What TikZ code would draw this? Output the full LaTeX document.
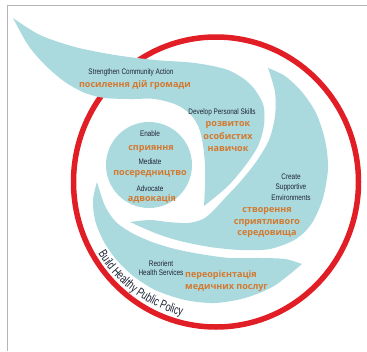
\documentclass[tikz,border=0pt]{standalone}
\usepackage{fontspec}
\setmainfont{Liberation Sans}
\newfontfamily\narrowsf{Liberation Sans}[FakeStretch=0.8]
\newfontfamily\capsf{Liberation Sans}[FakeStretch=0.72]
\newfontfamily\uafont{Open Sans}
\usetikzlibrary{decorations.text}

\definecolor{wingteal}{RGB}{170,218,222}
\definecolor{ringred}{RGB}{225,30,38}
\definecolor{ochre}{RGB}{212,120,45}
\definecolor{inkblue}{RGB}{30,35,50}
\definecolor{framegray}{RGB}{182,180,182}

\begin{document}
\begin{tikzpicture}[
  x=1pt, y=1pt,
  wing/.style={fill=wingteal},
  ring/.style={draw=ringred, line width=5.5pt},
  frame/.style={draw=framegray, line width=1.6pt},
  en/.style={font=\narrowsf\fontsize{8}{10}\selectfont, text=inkblue, align=center, inner sep=0pt},
  ua/.style={font=\uafont\bfseries\fontsize{9}{12}\selectfont, text=ochre, align=center, inner sep=0pt}
]
\useasboundingbox (0,0) rectangle (367,-351);
\draw[frame] (367,-5.5) -- (7.5,-5.5) -- (7.5,-351);

% public policy ring
\draw[ring] (216,-182) ellipse [x radius=142.5, y radius=145];

% wing that breaks out of the ring
\fill[wing] plot[smooth] coordinates {(13,-18) (40,-35) (75,-47) (115,-55) (155,-60) (195,-63) (228,-70) (250,-84) (263,-104) (264,-125) (258,-146) (245,-166) (229,-185) (214,-198) (204,-206)}
  -- plot[smooth] coordinates {(204,-206) (205,-185) (205,-165) (203,-145) (199,-128) (191,-115) (177,-105) (155,-99) (130,-99) (105,-98) (85,-93) (65,-82) (45,-65) (28,-45) (13,-18)} -- cycle;

% right wing
\fill[wing] plot[smooth] coordinates {(268,-68) (285,-76) (302,-92) (316,-113) (325,-140) (328,-168) (323,-198) (312,-223) (296,-239) (270,-249) (240,-250) (210,-247) (180,-241) (155,-233) (130,-222)}
  -- plot[smooth] coordinates {(130,-222) (150,-220) (168,-222) (188,-223) (203,-219) (214,-210) (225,-198) (240,-182) (256,-162) (269,-140) (275,-116) (275,-92) (268,-68)} -- cycle;

% lower wing
\fill[wing] plot[smooth] coordinates {(97,-182) (93,-200) (95,-220) (103,-240) (115,-258) (132,-275) (155,-290) (185,-300) (215,-303) (245,-298) (274,-286) (302,-264)}
  -- plot[smooth] coordinates {(302,-264) (285,-259) (260,-258) (230,-258) (200,-254) (175,-249) (152,-242) (132,-233) (116,-222) (105,-206) (97,-182)} -- cycle;

% centre ball
\fill[wing] (149,-165) circle [radius=43];

\node[en] (strengthen) at (131,-72) {Strengthen Community Action};
\node[ua] (strengthenua) at (135,-85) {посилення дій громади};

\node[en] (skills) at (222,-112) {Develop Personal Skills};
\node[ua, font=\uafont\bfseries\fontsize{9}{12.5}\selectfont] (skillsua) at (228,-137) {розвиток\\особистих\\навичок};

\node[en] (enable) at (150,-134) {Enable};
\node[ua] (enableua) at (151,-149) {сприяння};
\node[en] (mediate) at (150,-162) {Mediate};
\node[ua] (mediateua) at (150,-174) {посередництво};
\node[en] (advocate) at (150,-189) {Advocate};
\node[ua] (advocateua) at (152,-199) {адвокація};

\node[en, font=\narrowsf\fontsize{8}{10.5}\selectfont] (environ) at (291,-187) {Create\\Supportive\\Environments};
\node[ua, font=\uafont\bfseries\fontsize{9}{11.5}\selectfont] (environua) at (267,-223) {створення\\сприятливого\\середовища};

\node[en, font=\narrowsf\fontsize{8}{9}\selectfont] (reorient) at (161,-268.5) {Reorient\\Health Services};
\node[ua, align=left, anchor=west] (reorientua) at (185,-281) {переорієнтація\\медичних послуг};

% ring caption
\path[decorate, decoration={text along path, text align=center,
    text={|\capsf\fontsize{12.5}{12.5}\selectfont\color{inkblue}|Build Healthy Public Policy}}]
  (216,-182) ++(203:138) arc [start angle=203, end angle=264, radius=138];
\end{tikzpicture}
\end{document}
